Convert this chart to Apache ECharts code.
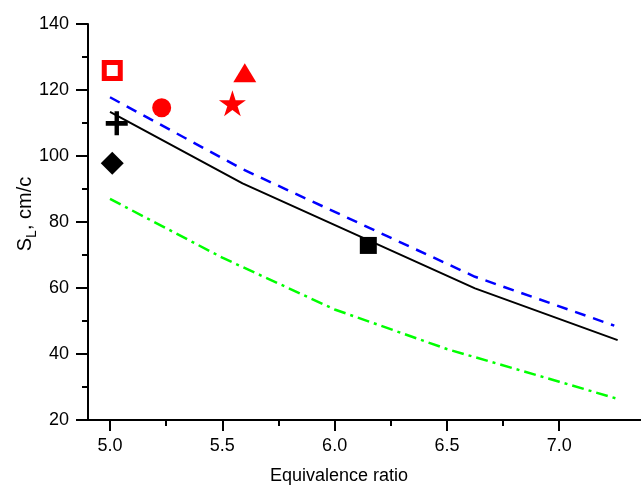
<!DOCTYPE html>
<html>
<head>
<meta charset="utf-8">
<script src="https://cdn.jsdelivr.net/npm/echarts@6/dist/echarts.min.js"></script>
<style>
  html, body { margin: 0; padding: 0; background: #fff; }
  #main { width: 641px; height: 487px; }
</style>
</head>
<body>
<div id="main"></div>
<script>
// model curves (equivalence ratio, S_L)
var phiSolid = [5.0, 5.59, 6.625, 7.26];
var solidBlack = [113.4, 91.7, 59.9, 44.2];
var phiDashed = [5.0, 5.59, 6.625, 7.245];
var dashedBlue = [117.8, 96.0, 63.4, 48.6];
var phiDashDot = [5.0, 5.5, 6.0, 6.5, 7.0, 7.26];
var dashDotGreen = [87.0, 69.2, 53.5, 41.5, 31.6, 26.4];

// experimental points
var redOpenSquare = [[5.01, 125.9]];
var redCircle = [[5.23, 114.6]];
var redTriangle = [[5.6, 125.2]];
var redStar = [[5.545, 116.0]];
var blackPlus = [[5.03, 109.9]];
var blackDiamond = [[5.01, 97.8]];
var blackSquare = [[6.15, 72.9]];

var xMajor = [5.0, 5.5, 6.0, 6.5, 7.0];
var xMinor = [5.25, 5.75, 6.25, 6.75];

var starPath = 'path://M50,0 L61.17,34.63 L97.55,34.55 L68.07,55.87 L79.39,90.45 L50,69 L20.61,90.45 L31.93,55.87 L2.45,34.55 L38.83,34.63 Z';
var plusPath = 'path://M4,0 L6,0 L6,4 L10,4 L10,6 L6,6 L6,10 L4,10 L4,6 L0,6 L0,4 L4,4 Z';

function pairs(xs, ys) {
    return xs.map(function (x, i) { return [x, ys[i]]; });
}

var font = 'Liberation Sans';
var chart = echarts.init(document.getElementById('main'));
var xBase = {
    type: 'value',
    position: 'bottom',
    min: 4.902,
    max: 7.364,
    splitLine: { show: false },
    axisLine: { onZero: false, lineStyle: { color: '#000', width: 2 } }
};
function marker(data, symbol, size, style) {
    return { type: 'scatter', data: data, symbol: symbol, symbolSize: size, z: 5,
             itemStyle: Object.assign({ opacity: 1 }, style) };
}
var option = {
    animation: false,
    backgroundColor: '#fff',
    textStyle: { fontFamily: font },
    grid: { left: 88, right: 0, top: 24, bottom: 67, outerBoundsMode: 'none', containLabel: false },
    xAxis: [
        Object.assign({}, xBase, {
            axisTick: { show: true, length: 11, customValues: xMajor, lineStyle: { color: '#000', width: 2 } },
            axisLabel: { customValues: xMajor, margin: 17, color: '#000', fontSize: 18, fontFamily: font,
                formatter: function (v) { return v.toFixed(1); } }
        }),
        Object.assign({}, xBase, {
            axisLine: { show: false },
            axisTick: { show: true, length: 6, customValues: xMinor, lineStyle: { color: '#000', width: 2 } },
            axisLabel: { show: false }
        })
    ],
    yAxis: {
        type: 'value',
        min: 20,
        max: 140,
        interval: 20,
        splitLine: { show: false },
        axisLine: { show: true, lineStyle: { color: '#000', width: 2 } },
        axisTick: { show: true, length: 12, lineStyle: { color: '#000', width: 2 } },
        minorTick: { show: true, splitNumber: 2, length: 6, lineStyle: { color: '#000', width: 2 } },
        axisLabel: { margin: 19, color: '#000', fontSize: 18, fontFamily: font },
        name: '{a|S}{b|L}{a|, cm/c}',
        nameLocation: 'middle',
        nameRotate: 90,
        nameGap: 49,
        nameMoveOverlap: false,
        nameTextStyle: {
            padding: [0, 0, 0, 16],
            rich: {
                a: { fontSize: 20, fontFamily: font, color: '#000' },
                b: { fontSize: 14, fontFamily: font, color: '#000', padding: [14, 0, 0, 0] }
            }
        }
    },
    graphic: [{
        type: 'text',
        left: 270,
        top: 467,
        style: { text: 'Equivalence ratio', fontSize: 18, fontFamily: font, fill: '#000' }
    }],
    series: [
        { type: 'line', data: pairs(phiSolid, solidBlack), showSymbol: false, z: 3,
          lineStyle: { color: '#000', width: 2 } },
        { type: 'line', data: pairs(phiDashed, dashedBlue), showSymbol: false, z: 3,
          lineStyle: { color: '#0000ff', width: 2.5, type: [11, 8] } },
        { type: 'line', data: pairs(phiDashDot, dashDotGreen), showSymbol: false, z: 3,
          lineStyle: { color: '#00ff00', width: 2.5, type: [12, 5, 3, 5] } },
        marker(redOpenSquare, 'rect', 16, { color: '#fff', borderColor: '#ff0000', borderWidth: 5 }),
        marker(redCircle, 'circle', 19, { color: '#ff0000' }),
        marker(redTriangle, 'triangle', [23, 19], { color: '#ff0000' }),
        marker(redStar, starPath, [27, 26], { color: '#ff0000' }),
        marker(blackPlus, plusPath, [22, 24], { color: '#000' }),
        marker(blackDiamond, 'diamond', [23, 23], { color: '#000' }),
        marker(blackSquare, 'rect', 17, { color: '#000' })
    ]
};
chart.setOption(option);
</script>
</body>
</html>
